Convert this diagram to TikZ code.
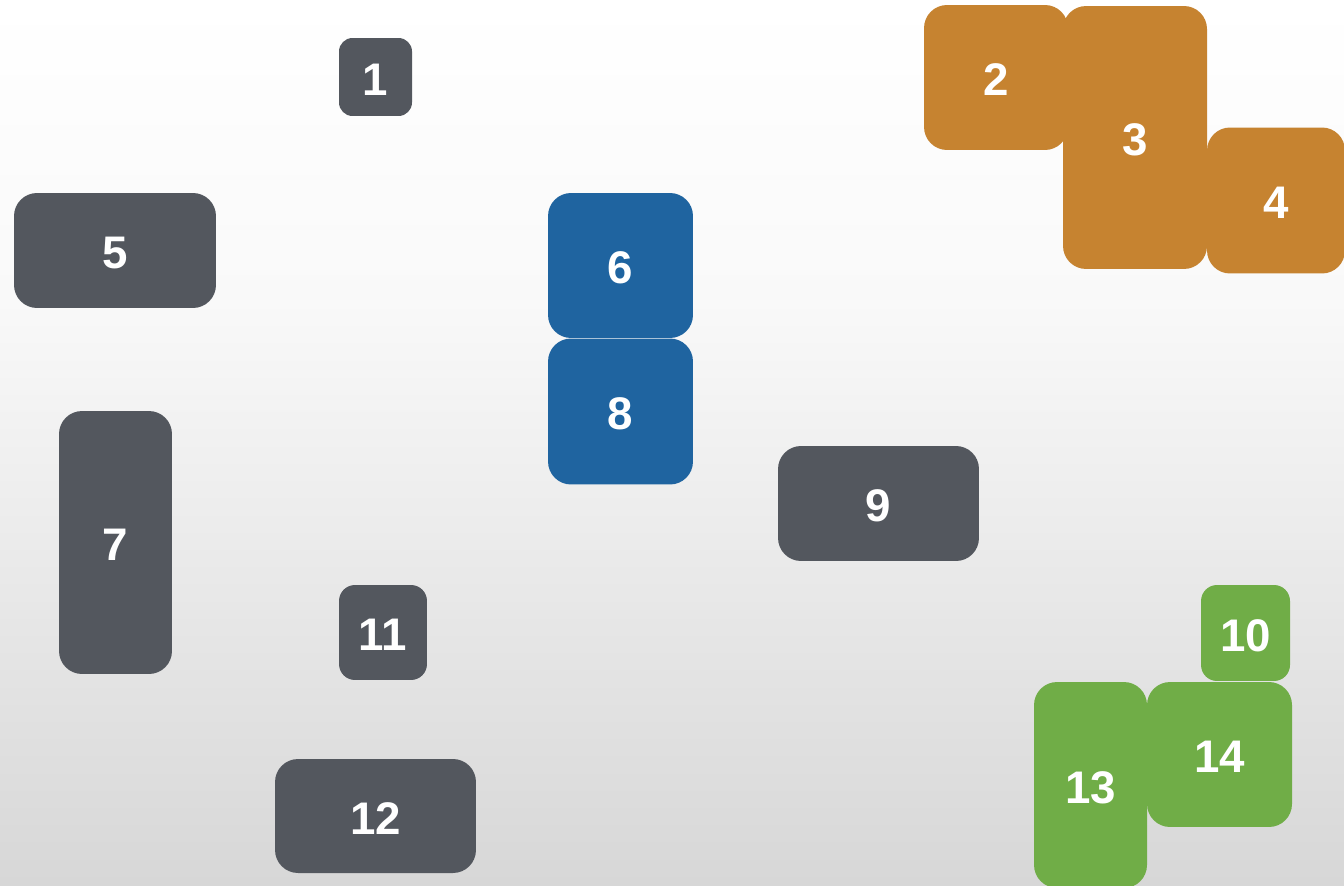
\documentclass[tikz,border=0pt]{standalone}
\usepackage{fontspec}
\setmainfont{Liberation Sans}
\usepackage{tikz}
\usetikzlibrary{positioning}
\definecolor{tilegrey}{HTML}{53575E}
\definecolor{tileorange}{HTML}{C68330}
\definecolor{tileblue}{HTML}{1F64A0}
\definecolor{tilegreen}{HTML}{70AD47}
\definecolor{bgtop}{HTML}{FFFFFF}
\definecolor{bgmid}{HTML}{F9F9F9}
\definecolor{bgbot}{HTML}{D7D7D7}
\tikzset{
  tile/.style       = {rectangle, rounded corners=0.46cm, inner sep=0pt, text=white,
                       text height=21pt, text depth=0pt,
                       font=\fontsize{26}{30}\selectfont\bfseries},
  small/.style      = {rounded corners=0.32cm},
  greytile/.style   = {tile, fill=tilegrey},
  orangetile/.style = {tile, fill=tileorange},
  bluetile/.style   = {tile, fill=tileblue},
  greentile/.style  = {tile, fill=tilegreen},
}

\begin{document}
\begin{tikzpicture}[x=0.02cm, y=-0.02cm]
  \clip (0,0) rectangle (1344,885);
  % background
  \shade[top color=bgtop, bottom color=bgmid] (0,0) rectangle (1344,300);
  \shade[top color=bgmid, bottom color=bgbot] (0,300) rectangle (1344,885);

  % grey tiles
  \node[greytile, small, rounded corners=0.27cm, minimum width=1.46cm, minimum height=1.56cm] (t1) at (375.5,77) {1};
  \node[greytile, minimum width=4.04cm, minimum height=2.3cm] (t5) at (115,250.5) {5};
  \node[greytile, minimum width=2.26cm, minimum height=5.26cm] (t7) at (115.5,542.5) {7};
  \node[greytile, minimum width=4.02cm, minimum height=2.3cm] (t9) at (878.5,503.5) {9};
  \node[greytile, small, minimum width=1.76cm, minimum height=1.9cm] (t11) at (383,632.5) {11};
  \node[greytile, minimum width=4.02cm, minimum height=2.28cm] (t12) at (375.5,816) {12};

  % orange tiles
  \node[orangetile, minimum width=2.88cm, minimum height=2.9cm] (t2) at (996,77.5) {2};
  \node[orangetile, minimum width=2.88cm, minimum height=5.26cm] (t3) at (1135,137.5) {3};
  \node[orangetile, minimum width=2.76cm, minimum height=2.92cm] (t4) at (1276,200.5) {4};

  % blue tiles
  \node[bluetile, minimum width=2.9cm, minimum height=2.9cm] (t6) at (620.5,265.5) {6};
  \node[bluetile, minimum width=2.9cm, minimum height=2.92cm] (t8) at (620.5,411.5) {8};

  % green tiles
  \node[greentile, small, minimum width=1.78cm, minimum height=1.92cm] (t10) at (1245.5,633) {10};
  \node[greentile, minimum width=2.26cm, minimum height=4.12cm] (t13) at (1090.5,785) {13};
  \node[greentile, minimum width=2.9cm, minimum height=2.9cm] (t14) at (1219.5,754.5) {14};
\end{tikzpicture}
\end{document}
